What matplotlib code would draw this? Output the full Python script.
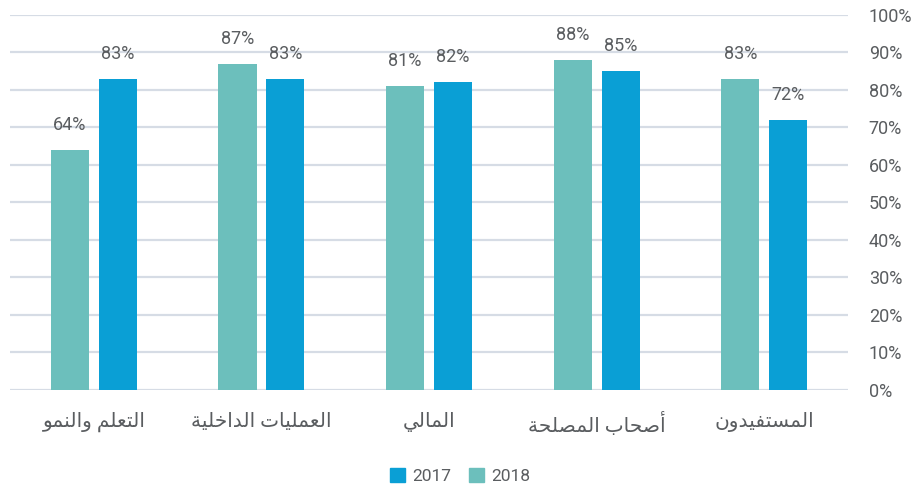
import matplotlib
matplotlib.use("Agg")
import matplotlib.pyplot as plt
from matplotlib.patches import Patch
import numpy as np

categories = ["التعلم والنمو", "العمليات الداخلية", "المالي", "أصحاب المصلحة", "المستفيدون"]
values_2018 = [64, 87, 81, 88, 83]
values_2017 = [83, 83, 82, 85, 72]
y_ticks = [0, 10, 20, 30, 40, 50, 60, 70, 80, 90, 100]

COLOR_2018 = "#6cbfbc"
COLOR_2017 = "#0a9fd5"
TEXT = "#5a5d60"
GRID = "#d6dce5"

# Arabic letters -> (isolated, final, initial, medial) presentation forms
FORMS = {
    "ا": (0xFE8D, 0xFE8E, None, None),
    "أ": (0xFE83, 0xFE84, None, None),
    "ب": (0xFE8F, 0xFE90, 0xFE91, 0xFE92),
    "ة": (0xFE93, 0xFE94, None, None),
    "ت": (0xFE95, 0xFE96, 0xFE97, 0xFE98),
    "ح": (0xFEA1, 0xFEA2, 0xFEA3, 0xFEA4),
    "خ": (0xFEA5, 0xFEA6, 0xFEA7, 0xFEA8),
    "د": (0xFEA9, 0xFEAA, None, None),
    "س": (0xFEB1, 0xFEB2, 0xFEB3, 0xFEB4),
    "ص": (0xFEB9, 0xFEBA, 0xFEBB, 0xFEBC),
    "ع": (0xFEC9, 0xFECA, 0xFECB, 0xFECC),
    "ف": (0xFED1, 0xFED2, 0xFED3, 0xFED4),
    "ل": (0xFEDD, 0xFEDE, 0xFEDF, 0xFEE0),
    "م": (0xFEE1, 0xFEE2, 0xFEE3, 0xFEE4),
    "ن": (0xFEE5, 0xFEE6, 0xFEE7, 0xFEE8),
    "و": (0xFEED, 0xFEEE, None, None),
    "ي": (0xFEF1, 0xFEF2, 0xFEF3, 0xFEF4),
}


def shape(text):
    out = []
    for i, ch in enumerate(text):
        if ch not in FORMS:
            out.append(ch)
            continue
        prev = text[i - 1] if i > 0 else ""
        nxt = text[i + 1] if i + 1 < len(text) else ""
        join_prev = prev in FORMS and FORMS[prev][2] is not None
        join_next = nxt in FORMS and FORMS[ch][2] is not None
        isol, fina, init, medi = FORMS[ch]
        if join_prev and join_next:
            form = medi
        elif join_prev:
            form = fina
        elif join_next:
            form = init
        else:
            form = isol
        out.append(chr(form))
    # visual order for right-to-left text
    return "".join(reversed(out))


plt.rcParams["font.family"] = ["Roboto", "DejaVu Sans"]

fig = plt.figure(figsize=(9.15, 4.9), dpi=100)
ax = fig.add_axes([0.011, 0.2041, 0.9158, 0.7653])

x = np.arange(len(categories))
w = 0.227
off = 0.143
ax.bar(x - off, values_2018, w, color=COLOR_2018, zorder=3)
ax.bar(x + off, values_2017, w, color=COLOR_2017, zorder=3)

for xi, v in zip(x - off, values_2018):
    ax.text(xi, v + 4.3, f"{v}%", ha="center", va="bottom", fontsize=13, color=TEXT)
for xi, v in zip(x + off, values_2017):
    ax.text(xi, v + 4.3, f"{v}%", ha="center", va="bottom", fontsize=13, color=TEXT)

ax.set_xlim(-0.5, 4.5)
ax.set_ylim(0, 100)
ax.set_yticks(y_ticks)
ax.set_yticklabels([f"{t}%" for t in y_ticks], fontsize=13, color=TEXT)
ax.yaxis.tick_right()
ax.tick_params(axis="y", length=0, pad=15)
ax.set_xticks(x)
ax.set_xticklabels([shape(c) for c in categories], fontsize=14.5, color=TEXT)
ax.tick_params(axis="x", length=0, pad=16)
ax.grid(axis="y", color=GRID, lw=1.6, zorder=0)
for s in ax.spines.values():
    s.set_visible(False)

handles = [Patch(color=COLOR_2017, label="2017"), Patch(color=COLOR_2018, label="2018")]
fig.legend(handles=handles, loc="center", bbox_to_anchor=(0.503, 0.028), ncol=2,
           frameon=False, fontsize=12.5, handlelength=0.85, handleheight=0.85,
           handletextpad=0.45, columnspacing=1.0, labelcolor=TEXT)

fig.savefig("out.png", dpi=100, facecolor="white")
